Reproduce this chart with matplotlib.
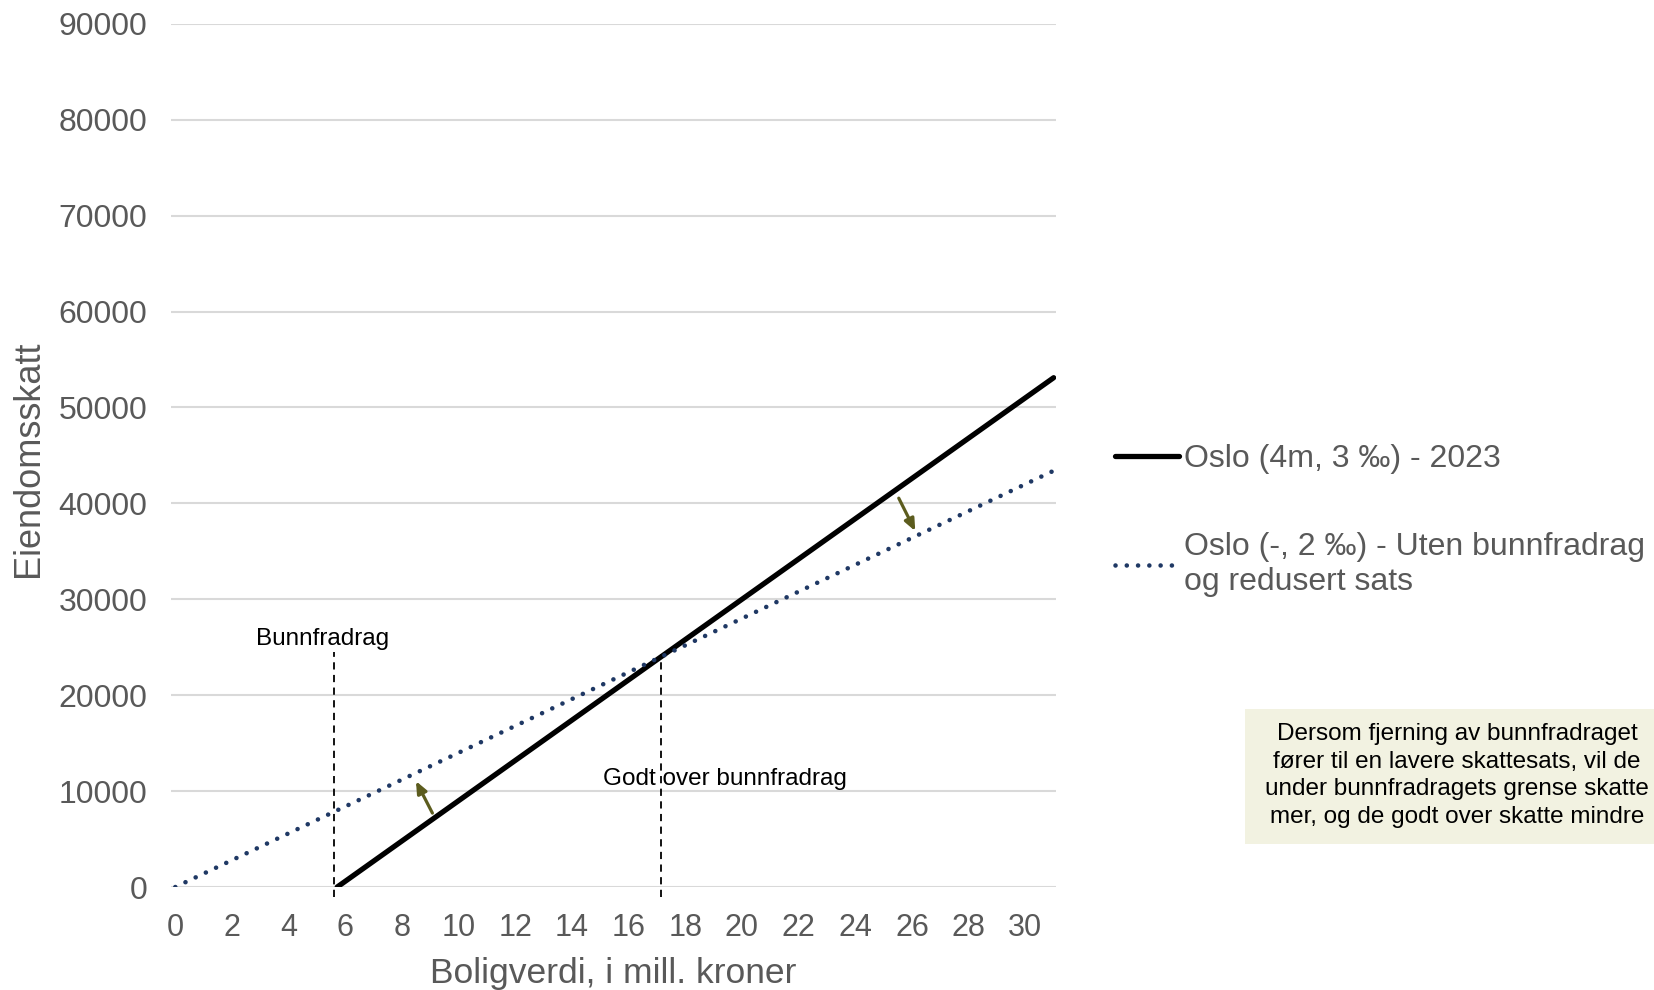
import matplotlib.pyplot as plt

plt.rcParams['font.family'] = ['Liberation Sans', 'DejaVu Sans']

# boligverdi (mill. kr) and eiendomsskatt (kr)
verdi_2023 = [5.714, 31.0]
skatt_2023 = [0, 53100]
verdi_uten = [0, 31.0]
skatt_uten = [0, 43400]

bunnfradrag_x = 5.6
godt_over_x = 17.15

xticks = list(range(0, 31, 2))
yticks = list(range(0, 90001, 10000))

label_2023 = 'Oslo (4m, 3 ‰) - 2023'
label_uten = 'Oslo (-, 2 ‰) - Uten bunnfradrag\nog redusert sats'

grey = '#595959'
navy = '#1F3864'
olive = '#5C5C1E'

fig = plt.figure(figsize=(16.54, 9.90), dpi=100)
ax = fig.add_axes([0.1034, 0.104, 0.535, 0.872])

ax.set_xlim(-0.15, 31.08)
ax.set_ylim(0, 90000)
ax.set_xticks(xticks)
ax.set_yticks(yticks)
ax.tick_params(length=0, colors=grey)
ax.tick_params(axis='y', labelsize=23, pad=17)
ax.tick_params(axis='x', labelsize=22, pad=19)
for s in ax.spines.values():
    s.set_visible(False)
ax.grid(axis='y', color='#D9D9D9', lw=1.5)
ax.set_axisbelow(True)

l1, = ax.plot(verdi_2023, skatt_2023, color='black', lw=3.8,
              solid_capstyle='round', label=label_2023, zorder=3)
l2, = ax.plot(verdi_uten, skatt_uten, color=navy, lw=3.3,
              linestyle=(0, (0.01, 2.45)), dash_capstyle='round',
              label=label_uten, zorder=3)

# dashed markers for bunnfradrag and "godt over"
ax.plot([bunnfradrag_x, bunnfradrag_x], [-1000, 24500], color='black',
        lw=1.3, ls=(0, (4, 3)), clip_on=False, zorder=2)
ax.plot([godt_over_x, godt_over_x], [-1000, 24300], color='black',
        lw=1.3, ls=(0, (4, 3)), clip_on=False, zorder=2)
ax.text(bunnfradrag_x - 0.4, 24750, 'Bunnfradrag', ha='center', va='bottom',
        fontsize=17.5, color='black')
ax.text(19.4, 11300, 'Godt over bunnfradrag', ha='center', va='center',
        fontsize=17.5, color='black', zorder=1)

# arrows showing the shift between the two schemes
ax.annotate('', xy=(8.45, 11300), xytext=(9.12, 7450),
            arrowprops=dict(arrowstyle='-|>,head_length=0.7,head_width=0.3',
                            color=olive, lw=2.3), zorder=4)
ax.annotate('', xy=(26.16, 36850), xytext=(25.49, 40800),
            arrowprops=dict(arrowstyle='-|>,head_length=0.7,head_width=0.3',
                            color=olive, lw=2.3), zorder=4)

fig.text(0.017, 0.537, 'Eiendomsskatt', rotation=90, ha='center', va='center',
         fontsize=26, color=grey)
fig.text(0.371, 0.017, 'Boligverdi, i mill. kroner', ha='center', va='center',
         fontsize=25.5, color=grey)

leg = fig.legend(handles=[l1, l2], loc='upper left',
                 bbox_to_anchor=(0.6665, 0.564), frameon=False,
                 fontsize=23, labelcolor=grey, handlelength=2.0,
                 handletextpad=0.15, labelspacing=1.8, borderaxespad=0)
for t in leg.get_texts():
    t.set_linespacing(1.22)

# explanation box
fig.patches.append(plt.Rectangle((0.7527, 0.1475), 0.2473, 0.136,
                                 transform=fig.transFigure,
                                 facecolor='#F2F2E1', edgecolor='none'))
fig.text(0.881, 0.2165,
         'Dersom fjerning av bunnfradraget\nfører til en lavere skattesats, vil de\n'
         'under bunnfradragets grense skatte\nmer, og de godt over skatte mindre',
         ha='center', va='center', fontsize=17.5, color='black', linespacing=1.33)

fig.savefig('out.png', dpi=100)
